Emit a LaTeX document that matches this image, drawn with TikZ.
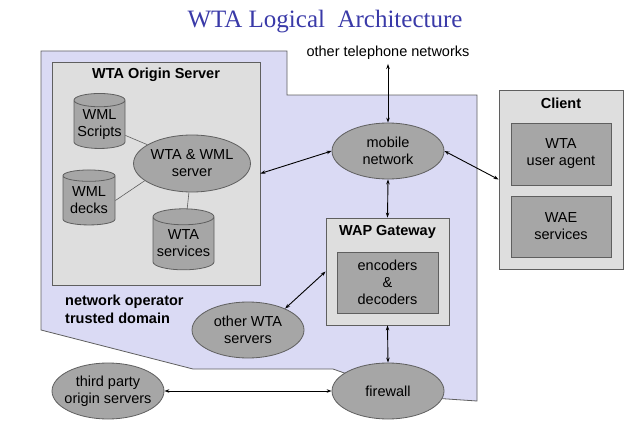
\documentclass[tikz,border=0pt]{standalone}
\usepackage{fontspec}
\setmainfont{Liberation Sans}
\newfontfamily\titlefont{Liberation Serif}
\usetikzlibrary{shapes.geometric,arrows.meta}
\definecolor{domainfill}{RGB}{218,218,244}
\definecolor{boxfill}{RGB}{222,222,222}
\definecolor{darkfill}{RGB}{166,166,166}
\definecolor{edgecol}{RGB}{95,95,95}
\definecolor{titleblue}{RGB}{58,58,168}
\begin{document}
\begin{tikzpicture}[x=1pt, y=-1pt,
  every node/.style={font=\fontsize{14.5}{17}\selectfont, align=center, inner sep=0pt},
  outerbox/.style={draw=edgecol, fill=boxfill, line width=0.8pt},
  innerbox/.style={draw=edgecol, fill=darkfill, line width=0.8pt, minimum width=100, minimum height=61},
  cloud/.style={ellipse, draw=edgecol, fill=darkfill, line width=0.8pt, minimum width=112, minimum height=56},
  store/.style={cylinder, shape border rotate=90, aspect=0.3, draw=edgecol, fill=darkfill, line width=0.8pt},
  boxtitle/.style={font=\fontsize{14.5}{18}\selectfont\bfseries},
  link/.style={draw=edgecol, line width=0.6pt},
  arr/.style={<->, >={Stealth[length=5pt,width=3.5pt]}, line width=0.9pt}]
%
\useasboundingbox (0,0) rectangle (640,436);
%
\node[anchor=base, font=\fontsize{25}{29}\titlefont, text=titleblue] (title) at (325,28) {WTA Logical\ \ Architecture};
%
\fill[domainfill] (41,51) -- (287,51) -- (287,95) -- (477,95) -- (477,401) -- (388,395)
  -- (350,375) -- (333,369) -- (193,369) -- (41,330) -- cycle;
\draw[edgecol, line width=0.8pt] (41,51) -- (287,51) -- (287,95) -- (477,95) -- (477,401) -- (388,395)
  -- (350,375) -- (333,369) -- (193,369) -- (41,330) -- cycle;
%
\node (tel) at (388,53) {other\ telephone\ networks};
\node[boxtitle, align=left, anchor=north west] (trust) at (65,295) {network\ operator\\trusted domain};
%
% origin server
\node[outerbox, minimum width=208, minimum height=223] (origin) at (156,173.5) {};
\node[boxtitle] (origintitle) at (156,75) {WTA Origin\ Server};
\node[store, minimum width=51, minimum height=55] (scripts) at (99.5,124.5) {WML\\Scripts};
\node[store, minimum width=52, minimum height=55] (decks) at (89,200.5) {WML\\decks};
\node[store, minimum width=61, minimum height=61] (services) at (183.5,243.5) {WTA\\services};
\node[cloud, minimum height=57] (server) at (192,163.5) {WTA \& WML\\server};
%
\path[link] (scripts) -- (server);
\path[link] (decks.east) -- (server.200);
\path[link] (services) -- (server);
%
% client
\node[outerbox, minimum width=124, minimum height=179] (client) at (561,179.5) {};
\node[boxtitle] (clienttitle) at (561,103) {Client};
\node[innerbox, minimum height=62] (agent) at (561,154) {WTA\\user agent};
\node[innerbox] (wae) at (561,226.5) {WAE\\services};
%
% gateway
\node[outerbox, minimum width=123, minimum height=107] (wap) at (387.5,271.5) {};
\node[boxtitle] (waptitle) at (387.5,232) {WAP Gateway};
\node[innerbox, minimum width=101] (codec) at (387.5,282.5) {encoders\\\&\\decoders};
%
\node[cloud] (mobile) at (388,151) {mobile\\network};
\node[cloud] (otherwta) at (248,330) {other WTA\\servers};
\node[cloud, inner xsep=-5pt] (third) at (108,391) {third party\\origin servers};
\node[cloud] (firewall) at (388,391) {firewall};
%
\draw[arr] (tel.south) ++(0,4) coordinate (telend) (telend) -- (mobile.north);
\draw[arr] (origin.east) -- (mobile.west);
\draw[arr] (mobile.east) -- (client.west);
\draw[arr] (mobile.south) -- (wap.north);
\draw[arr] (wap.west) -- (otherwta.30);
\draw[arr] (wap.south) -- (firewall.north);
\draw[arr] (third.east) -- (firewall.west);
%
\end{tikzpicture}
\end{document}
